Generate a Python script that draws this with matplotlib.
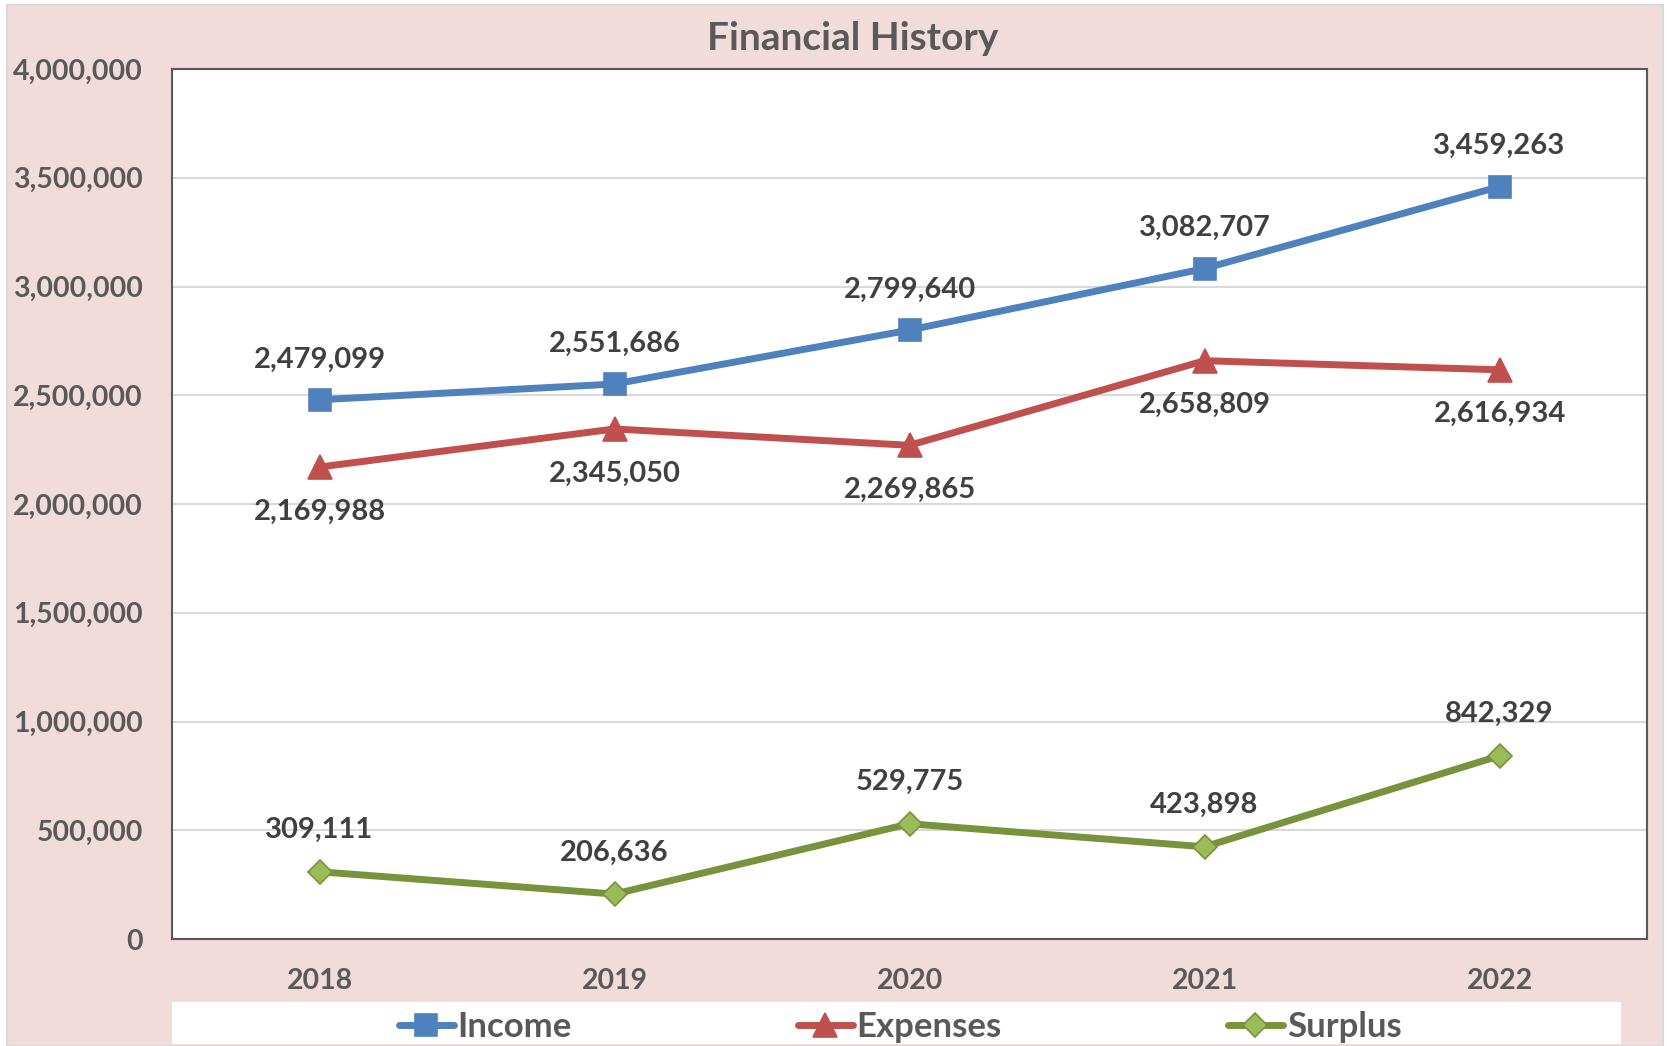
import matplotlib
matplotlib.use("Agg")
import matplotlib.pyplot as plt
from matplotlib.patches import Rectangle
from matplotlib.ticker import FuncFormatter, MultipleLocator

plt.rcParams["font.family"] = ["Lato", "DejaVu Sans"]
plt.rcParams["font.weight"] = "bold"

# ── data ──
years = ["2018", "2019", "2020", "2021", "2022"]
income = [2479099, 2551686, 2799640, 3082707, 3459263]
expenses = [2169988, 2345050, 2269865, 2658809, 2616934]
surplus = [309111, 206636, 529775, 423898, 842329]

W, H = 1667, 1046
fig = plt.figure(figsize=(W / 100, H / 100), dpi=100, facecolor="white")

# pink chart area with a thin grey border
fig.patches.append(Rectangle((7 / W, 0), (1663 - 7) / W, 1 - 5 / H,
                             transform=fig.transFigure, facecolor="#F2DCDB",
                             edgecolor="#D9D9D9", linewidth=1.5, zorder=-2))
# white legend band
fig.patches.append(Rectangle((172 / W, 1 - 1044 / H), (1621 - 172) / W, 42 / H,
                             transform=fig.transFigure, facecolor="white",
                             edgecolor="none", zorder=-1))

ax = fig.add_axes([172 / W, 1 - 939 / H, (1647 - 172) / W, (939 - 69) / H])
ax.set_facecolor("white")

x = range(len(years))
series = [
    ("Income", income, "#4F81BD", "s", 16.5, "#4F81BD", "#4F81BD", 29),
    ("Expenses", expenses, "#C0504D", "^", 17, "#C0504D", "#C0504D", -32),
    ("Surplus", surplus, "#77933C", "D", 12, "#9BBB59", "#77933C", 30),
]
handles = []
for name, vals, col, mk, ms, mfc, mec, dy in series:
    (ln,) = ax.plot(x, vals, color=col, lw=5, marker=mk, markersize=ms,
                    markerfacecolor=mfc, markeredgecolor=mec, markeredgewidth=1.2,
                    solid_capstyle="round", label=name, zorder=3)
    handles.append(ln)
    for xi, v in zip(x, vals):
        ax.annotate(f"{v:,}", (xi, v), xytext=(0, dy), textcoords="offset points",
                    ha="center", va="center", fontsize=21, fontweight="bold",
                    color="#404040")

ax.set_xlim(-0.5, len(years) - 0.5)
ax.set_ylim(0, 4000000)
ax.yaxis.set_major_locator(MultipleLocator(500000))
ax.yaxis.set_major_formatter(FuncFormatter(lambda v, p: f"{int(v):,}"))
ax.set_xticks(list(x))
ax.set_xticklabels(years)
ax.grid(True, axis="y", color="#D9D9D9", linewidth=1.5, zorder=0)
ax.set_axisbelow(True)
ax.tick_params(axis="both", length=0, labelsize=20.5, labelcolor="#595959")
ax.tick_params(axis="y", pad=21)
ax.tick_params(axis="x", pad=21)
for lab in ax.get_xticklabels() + ax.get_yticklabels():
    lab.set_fontweight("bold")
for sp in ax.spines.values():
    sp.set_color("#595959")
    sp.set_linewidth(1.5)

fig.text(853 / W, 1 - 39 / H, "Financial History", ha="center", va="center",
         fontsize=28, fontweight="bold", color="#595959")

leg = fig.legend(handles=handles, loc="center", bbox_to_anchor=(900 / W, 1 - 1027 / H),
                 ncol=3, frameon=False, fontsize=25, handlelength=1.6,
                 handletextpad=0.1, columnspacing=6.5, borderaxespad=0)
for t in leg.get_texts():
    t.set_color("#595959")
    t.set_fontweight("bold")
leg.set_zorder(5)

fig.savefig("out.png", dpi=100, facecolor=fig.get_facecolor())
